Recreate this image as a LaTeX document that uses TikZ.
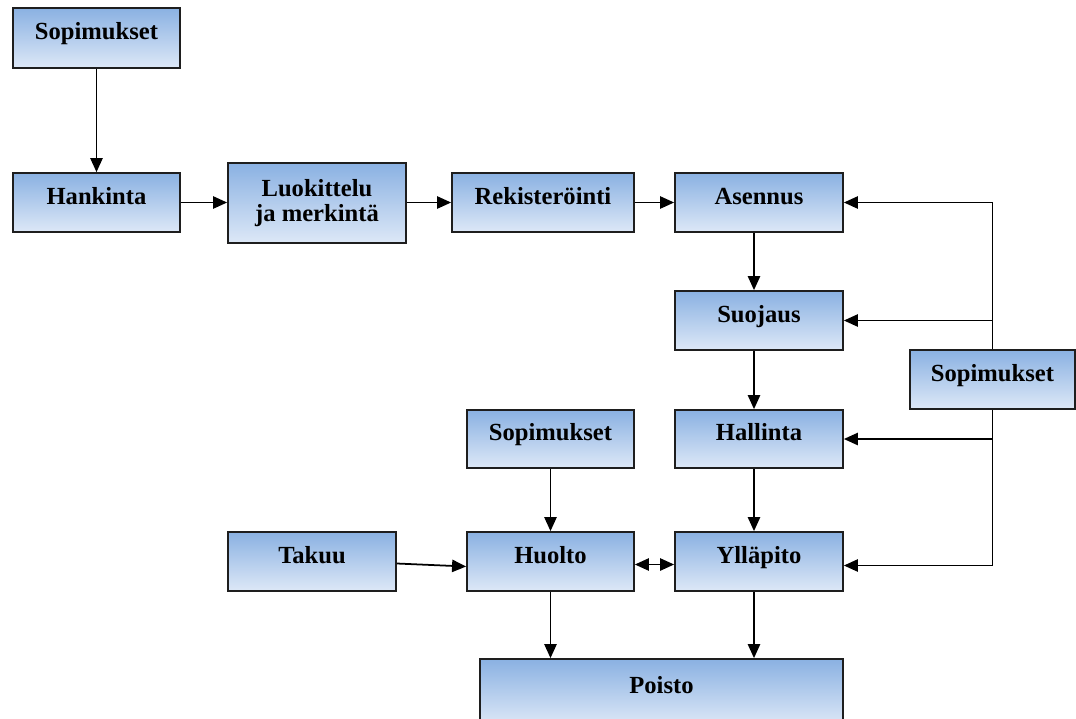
\documentclass[tikz,border=0pt]{standalone}
\usepackage{fontspec}
\setmainfont{Liberation Serif}
\usetikzlibrary{arrows.meta,calc}
\definecolor{boxtop}{RGB}{138,177,226}
\definecolor{boxbot}{RGB}{221,232,247}
\definecolor{edge}{RGB}{30,30,30}
\begin{document}
\begin{tikzpicture}[x=0.02cm,y=-0.02cm,
  blk/.style 2 args={draw=edge, line width=1pt, top color=boxtop, bottom color=boxbot,
    minimum width=#1*0.02cm, minimum height=#2*0.02cm, inner sep=0pt, align=center,
    font=\bfseries\fontsize{14}{14.2}\selectfont, text height=10pt, text depth=8pt},
  twoline/.style={text height=, text depth=},
  conn/.style={draw=black, line width=1pt},
  arr/.style={conn, -{Triangle[length=8pt,width=7pt]}},
  darr/.style={conn, {Triangle[length=8pt,width=7pt]}-{Triangle[length=8pt,width=7pt]}}]
\useasboundingbox (0,0) rectangle (1076,718);

% process boxes
\node[blk={167}{60}] (sop1) at (96.5,38) {Sopimukset};
\node[blk={167}{59}] (hank) at (96.5,202.5) {Hankinta};
\node[blk={178}{80},twoline] (luok) at (317,203) {Luokittelu\\ja merkintä};
\node[blk={182}{59}] (rek) at (543,202.5) {Rekisteröinti};
\node[blk={168}{59}] (ase) at (759,202.5) {Asennus};
\node[blk={168}{59}] (suo) at (759,320.5) {Suojaus};
\node[blk={168}{58}] (hal) at (759,439) {Hallinta};
\node[blk={165}{59}] (sopR) at (992.5,379.5) {Sopimukset};
\node[blk={167}{58}] (sopM) at (550.5,439) {Sopimukset};
\node[blk={168}{59}] (tak) at (312,561.5) {Takuu};
\node[blk={167}{59}] (huo) at (550.5,561.5) {Huolto};
\node[blk={168}{59}] (yll) at (759,561.5) {Ylläpito};
\node[blk={363}{66}] (poi) at (661.5,692) {Poisto};

% main chain
\draw[arr] (sop1.south) -- (hank.north);
\draw[arr] (hank.east) -- (luok.west |- hank.east);
\draw[arr] (luok.east |- rek.west) -- (rek.west);
\draw[arr] (rek.east) -- (ase.west);
\draw[arr] ($(ase.south)+(-5,0)$) -- ($(suo.north)+(-5,0)$);
\draw[arr] ($(suo.south)+(-5,0)$) -- ($(hal.north)+(-5,0)$);
\draw[arr] ($(hal.south)+(-5,0)$) -- ($(yll.north)+(-5,0)$);

% agreements on the right feed the operating phases
\coordinate (rtop) at (sopR.north |- ase.east);
\coordinate (rbot) at ($(sopR.south |- yll.east)+(0,4)$);
\draw[arr] (sopR.north) -- (rtop) -- (ase.east);
\draw[arr] (sopR.north |- suo.east) -- (suo.east);
\draw[arr] (sopR.south) -- (rbot) -- ($(yll.east)+(0,4)$);
\draw[arr] (sopR.south |- hal.east) -- (hal.east);

% service branch
\draw[arr] (sopM.south) -- (huo.north);
\draw[arr] ($(tak.east)+(0,2)$) -- ($(huo.west)+(0,5)$);
\draw[darr] ($(huo.east)+(0,3)$) -- ($(yll.west)+(0,3)$);
\draw[arr] (huo.south) -- (huo.south |- poi.north);
\draw[arr] ($(yll.south)+(-5,0)$) -- ($(yll.south |- poi.north)+(-5,0)$);
\end{tikzpicture}
\end{document}
